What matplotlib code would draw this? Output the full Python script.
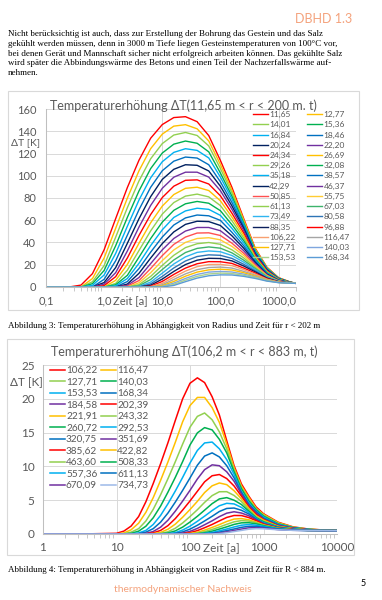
import matplotlib
matplotlib.use("Agg")
import matplotlib.pyplot as plt
from matplotlib.patches import Rectangle
from matplotlib.ticker import LogLocator, NullFormatter

W, H = 382, 600

# Abbildung 3: Zeit [a] und Temperaturerhoehung [K] je Radius
zeit1 = [0.1, 0.16, 0.25, 0.4, 0.63, 1, 1.58, 2.51, 3.98, 6.31, 10, 15.8, 25.1,
         39.8, 63.1, 100, 158, 251, 398, 631, 1000, 1585, 2000]
radien1 = ["11,65", "12,77", "14,01", "15,36", "16,84", "18,46", "20,24", "22,20",
           "24,34", "26,69", "29,26", "32,08", "35,18", "38,57", "42,29", "46,37",
           "50,85", "55,75", "61,13", "67,03", "73,49", "80,58", "88,35", "96,88",
           "106,22", "116,47", "127,71", "140,03", "153,53", "168,34"]
farben1 = ["#FF0000", "#FFC000", "#92D050", "#00B050", "#00B0F0", "#0070C0", "#002060", "#7030A0",
           "#FF0000", "#FFC000", "#92D050", "#00B050", "#00B0F0", "#0070C0", "#002060", "#7030A0",
           "#FF5050", "#FFCC33", "#92D050", "#3DB36B", "#2FB5F0", "#2E75B6", "#0B1F5C", "#FF0000",
           "#F8A070", "#A5A5A5", "#FFC000", "#7FA6DE", "#A9D18E", "#5B9BD5"]
werte1 = [
    [0, 0, 0, 1.7, 12.0, 33.5, 61.5, 89.4, 114.0, 133.7, 146.0, 152.3, 153.1, 148.6, 136.1, 113.8, 89.6, 61.7, 34.8, 17.8, 8.4, 4.5, 3.3],
    [0, 0, 0, 0, 7.6, 26.1, 52.8, 79.9, 104.5, 124.3, 137.4, 144.6, 145.9, 142.2, 131.3, 110.2, 87.0, 60.5, 34.1, 17.4, 8.3, 4.4, 3.3],
    [0, 0, 0, 0, 4.7, 19.3, 44.8, 71.3, 95.4, 115.2, 128.9, 136.6, 138.9, 136.2, 126.8, 106.6, 84.6, 59.2, 33.3, 17.1, 8.1, 4.4, 3.3],
    [0, 0, 0, 0, 3.0, 14.9, 37.1, 62.6, 86.4, 106.4, 120.4, 128.4, 131.2, 129.2, 121.5, 102.5, 81.6, 57.7, 32.5, 16.7, 7.9, 4.3, 3.3],
    [0, 0, 0, 0, 1.5, 10.8, 30.2, 54.6, 78.2, 98.1, 112.6, 121.0, 124.3, 122.8, 116.0, 98.8, 79.1, 56.3, 31.7, 16.3, 7.8, 4.3, 3.3],
    [0, 0, 0, 0, 0, 6.9, 23.6, 46.6, 69.5, 89.6, 104.5, 113.1, 116.8, 115.9, 109.9, 94.6, 76.0, 54.6, 30.7, 15.9, 7.6, 4.2, 3.3],
    [0, 0, 0, 0, 0, 4.0, 17.5, 39.3, 61.4, 81.2, 96.7, 105.8, 109.9, 109.4, 104.3, 90.6, 72.9, 52.9, 29.8, 15.4, 7.4, 4.2, 3.3],
    [0, 0, 0, 0, 0, 2.6, 12.9, 32.4, 53.9, 73.3, 88.7, 98.7, 103.2, 103.2, 98.8, 86.6, 69.9, 51.0, 28.9, 15.0, 7.3, 4.2, 3.3],
    [0, 0, 0, 0, 0, 1.2, 9.3, 26.1, 46.4, 65.1, 80.4, 90.6, 95.9, 96.3, 92.6, 82.0, 66.3, 48.7, 27.8, 14.4, 7.0, 4.1, 3.3],
    [0, 0, 0, 0, 0, 0, 6.0, 20.3, 39.3, 57.7, 72.7, 83.1, 88.7, 89.7, 86.7, 77.5, 62.9, 46.5, 27.0, 13.9, 6.9, 4.1, 3.3],
    [0, 0, 0, 0, 0, 0, 3.2, 15.1, 32.8, 50.4, 65.5, 75.9, 81.7, 83.5, 81.0, 73.2, 59.5, 44.2, 26.1, 13.4, 6.7, 4.0, 3.3],
    [0, 0, 0, 0, 0, 0, 2.0, 10.5, 26.8, 43.5, 58.3, 68.9, 74.8, 76.9, 75.3, 68.6, 56.0, 41.8, 25.1, 12.8, 6.5, 4.0, 3.3],
    [0, 0, 0, 0, 0, 0, 1.0, 7.6, 21.3, 37.2, 51.4, 62.5, 68.4, 70.8, 69.8, 64.4, 52.7, 39.6, 24.2, 12.4, 6.3, 3.9, 3.3],
    [0, 0, 0, 0, 0, 0, 0, 4.9, 16.6, 31.3, 44.9, 55.7, 62.1, 64.7, 64.0, 59.9, 49.2, 37.2, 23.1, 11.9, 6.1, 3.9, 3.3],
    [0, 0, 0, 0, 0, 0, 0, 2.6, 12.3, 26.0, 39.0, 49.5, 56.3, 59.1, 58.8, 55.3, 46.0, 35.0, 22.1, 11.5, 5.9, 3.8, 3.3],
    [0, 0, 0, 0, 0, 0, 0, 1.5, 8.5, 21.0, 33.4, 43.6, 50.3, 53.5, 53.5, 50.6, 42.6, 32.7, 20.9, 11.0, 5.7, 3.8, 3.3],
    [0, 0, 0, 0, 0, 0, 0, 0.7, 5.8, 16.6, 28.2, 38.3, 44.9, 48.5, 48.7, 46.3, 39.4, 30.4, 19.8, 10.5, 5.5, 3.7, 3.3],
    [0, 0, 0, 0, 0, 0, 0, 0, 3.8, 12.8, 23.7, 33.3, 40.1, 43.6, 44.3, 42.4, 36.5, 28.4, 18.7, 10.1, 5.3, 3.7, 3.3],
    [0, 0, 0, 0, 0, 0, 0, 0, 2.1, 9.5, 19.4, 28.5, 35.4, 38.9, 40.0, 38.4, 33.4, 26.2, 17.6, 9.6, 5.1, 3.7, 3.3],
    [0, 0, 0, 0, 0, 0, 0, 0, 1.1, 6.7, 15.7, 24.3, 31.0, 34.7, 36.0, 34.9, 30.7, 24.2, 16.5, 9.1, 5.0, 3.6, 3.3],
    [0, 0, 0, 0, 0, 0, 0, 0, 0.5, 4.4, 12.4, 20.7, 27.1, 31.1, 32.4, 31.7, 28.3, 22.4, 15.6, 8.7, 4.9, 3.6, 3.3],
    [0, 0, 0, 0, 0, 0, 0, 0, 0, 2.8, 9.5, 17.1, 23.4, 27.4, 28.9, 28.5, 25.7, 20.5, 14.5, 8.3, 4.8, 3.6, 3.3],
    [0, 0, 0, 0, 0, 0, 0, 0, 0, 1.6, 7.1, 14.0, 20.2, 24.1, 25.8, 25.6, 23.5, 18.9, 13.6, 7.9, 4.7, 3.5, 3.3],
    [0, 0, 0, 0, 0, 0, 0, 0, 0, 0.8, 5.0, 11.3, 17.0, 20.9, 22.8, 22.7, 21.2, 17.1, 12.5, 7.4, 4.5, 3.5, 3.3],
    [0, 0, 0, 0, 0, 0, 0, 0, 0, 0.3, 3.2, 8.9, 14.3, 18.3, 20.2, 20.3, 19.2, 15.7, 11.6, 7.0, 4.4, 3.5, 3.3],
    [0, 0, 0, 0, 0, 0, 0, 0, 0, 0, 2.0, 6.8, 11.8, 15.6, 17.5, 17.9, 17.0, 14.1, 10.6, 6.6, 4.3, 3.5, 3.3],
    [0, 0, 0, 0, 0, 0, 0, 0, 0, 0, 1.2, 5.0, 9.7, 13.4, 15.4, 16.0, 15.3, 12.9, 9.8, 6.3, 4.2, 3.4, 3.3],
    [0, 0, 0, 0, 0, 0, 0, 0, 0, 0, 0.5, 3.5, 7.7, 11.3, 13.4, 14.0, 13.5, 11.6, 9.0, 5.9, 4.1, 3.4, 3.3],
    [0, 0, 0, 0, 0, 0, 0, 0, 0, 0, 0.2, 2.4, 6.2, 9.6, 11.7, 12.5, 12.1, 10.6, 8.4, 5.6, 4.0, 3.4, 3.3],
    [0, 0, 0, 0, 0, 0, 0, 0, 0, 0, 0, 1.4, 4.8, 8.0, 10.1, 10.9, 10.8, 9.6, 7.7, 5.3, 3.9, 3.4, 3.3],
]

# Abbildung 4
zeit2 = [1, 3.2, 10, 12.6, 15.8, 20, 25.1, 31.6, 39.8, 50.1, 63.1, 79.4, 100, 126,
         158, 200, 251, 316, 398, 501, 631, 794, 1000, 1585, 2512, 3981, 6310, 10000]
radien2 = ["106,22", "116,47", "127,71", "140,03", "153,53", "168,34", "184,58", "202,39",
           "221,91", "243,32", "260,72", "292,53", "320,75", "351,69", "385,62", "422,82",
           "463,60", "508,33", "557,36", "611,13", "670,09", "734,73"]
farben2 = ["#FF0000", "#FFC000", "#92D050", "#00B050", "#00B0F0", "#0070C0", "#7030A0",
           "#FF0000", "#FFC000", "#92D050", "#00B050", "#00B0F0", "#0070C0", "#7030A0",
           "#FF0000", "#FFC000", "#92D050", "#00B050", "#00B0F0", "#0070C0", "#7030A0",
           "#9DB9E8"]
werte2 = [
    [0, 0, 0.1, 0.43, 1.17, 2.58, 4.77, 7.47, 10.4, 13.5, 16.8, 20.0, 22.3, 23.1, 22.4, 20.3, 17.6, 13.8, 10.1, 7.4, 5.6, 4.0, 3.0, 1.74, 1.06, 0.75, 0.6, 0.5],
    [0, 0, 0, 0.16, 0.62, 1.60, 3.21, 5.38, 7.94, 10.66, 13.56, 16.6, 19.0, 20.2, 20.2, 18.7, 16.5, 13.3, 9.8, 7.1, 5.4, 3.8, 2.9, 1.67, 1.02, 0.73, 0.59, 0.5],
    [0, 0, 0, 0.05, 0.27, 0.79, 1.92, 3.65, 5.81, 8.18, 10.69, 13.3, 15.8, 17.4, 17.9, 16.9, 15.1, 12.6, 9.5, 6.85, 5.1, 3.7, 2.8, 1.58, 0.99, 0.71, 0.58, 0.5],
    [0, 0, 0, 0, 0.1, 0.42, 1.15, 2.40, 4.13, 6.19, 8.38, 10.71, 13.17, 14.96, 15.74, 15.4, 14.0, 12.0, 9.2, 6.7, 4.9, 3.6, 2.65, 1.5, 0.96, 0.69, 0.57, 0.5],
    [0, 0, 0, 0, 0.01, 0.15, 0.53, 1.41, 2.75, 4.47, 6.36, 8.37, 10.5, 12.36, 13.47, 13.6, 12.6, 11.0, 8.8, 6.3, 4.6, 3.4, 2.5, 1.42, 0.92, 0.67, 0.56, 0.5],
    [0, 0, 0, 0, 0, 0.06, 0.27, 0.79, 1.75, 3.10, 4.72, 6.45, 8.29, 10.18, 11.53, 12.0, 11.4, 10.1, 8.3, 6.15, 4.4, 3.3, 2.35, 1.35, 0.88, 0.66, 0.56, 0.5],
    [0, 0, 0, 0, 0, 0, 0.09, 0.37, 1.01, 2.04, 3.38, 4.87, 6.46, 8.14, 9.52, 10.23, 10.1, 9.2, 7.8, 5.9, 4.2, 3.1, 2.2, 1.27, 0.85, 0.64, 0.55, 0.5],
    [0, 0, 0, 0, 0, 0, 0.03, 0.17, 0.53, 1.24, 2.28, 3.54, 4.89, 6.32, 7.72, 8.62, 8.8, 8.2, 7.1, 5.6, 4.0, 2.9, 2.14, 1.19, 0.82, 0.62, 0.55, 0.5],
    [0, 0, 0, 0, 0, 0, 0, 0.05, 0.24, 0.70, 1.46, 2.48, 3.62, 4.83, 6.13, 7.13, 7.55, 7.3, 6.4, 5.2, 3.8, 2.7, 2.05, 1.14, 0.78, 0.61, 0.54, 0.5],
    [0, 0, 0, 0, 0, 0, 0, 0.01, 0.09, 0.33, 0.85, 1.63, 2.58, 3.59, 4.68, 5.68, 6.25, 6.26, 5.7, 4.8, 3.6, 2.56, 1.92, 1.09, 0.75, 0.59, 0.53, 0.5],
    [0, 0, 0, 0, 0, 0, 0, 0, 0.03, 0.15, 0.46, 1.02, 1.77, 2.62, 3.53, 4.49, 5.19, 5.38, 5.0, 4.36, 3.38, 2.42, 1.8, 1.05, 0.72, 0.58, 0.53, 0.5],
    [0, 0, 0, 0, 0, 0, 0, 0, 0, 0.05, 0.20, 0.58, 1.16, 1.88, 2.64, 3.47, 4.18, 4.54, 4.45, 3.93, 3.18, 2.29, 1.69, 1.0, 0.70, 0.57, 0.53, 0.5],
    [0, 0, 0, 0, 0, 0, 0, 0, 0, 0.01, 0.09, 0.31, 0.72, 1.29, 1.93, 2.62, 3.33, 3.78, 3.84, 3.51, 2.96, 2.2, 1.58, 0.96, 0.68, 0.56, 0.52, 0.5],
    [0, 0, 0, 0, 0, 0, 0, 0, 0, 0, 0.03, 0.13, 0.39, 0.83, 1.37, 1.95, 2.57, 3.08, 3.29, 3.1, 2.7, 2.09, 1.52, 0.91, 0.66, 0.55, 0.52, 0.5],
    [0, 0, 0, 0, 0, 0, 0, 0, 0, 0, 0, 0.05, 0.20, 0.50, 0.93, 1.41, 1.94, 2.45, 2.74, 2.73, 2.43, 1.97, 1.45, 0.87, 0.64, 0.54, 0.52, 0.5],
    [0, 0, 0, 0, 0, 0, 0, 0, 0, 0, 0, 0.01, 0.08, 0.25, 0.57, 0.97, 1.39, 1.85, 2.21, 2.28, 2.1, 1.78, 1.35, 0.83, 0.62, 0.54, 0.51, 0.5],
    [0, 0, 0, 0, 0, 0, 0, 0, 0, 0, 0, 0, 0.03, 0.13, 0.35, 0.67, 1.03, 1.43, 1.80, 1.98, 1.91, 1.67, 1.31, 0.81, 0.61, 0.53, 0.51, 0.5],
    [0, 0, 0, 0, 0, 0, 0, 0, 0, 0, 0, 0, 0.01, 0.05, 0.18, 0.42, 0.73, 1.06, 1.42, 1.65, 1.67, 1.51, 1.24, 0.78, 0.59, 0.53, 0.51, 0.5],
    [0, 0, 0, 0, 0, 0, 0, 0, 0, 0, 0, 0, 0, 0.01, 0.08, 0.23, 0.47, 0.74, 1.04, 1.30, 1.40, 1.31, 1.13, 0.74, 0.58, 0.53, 0.51, 0.5],
    [0, 0, 0, 0, 0, 0, 0, 0, 0, 0, 0, 0, 0, 0, 0.03, 0.11, 0.28, 0.50, 0.74, 0.99, 1.13, 1.12, 1.01, 0.70, 0.56, 0.52, 0.51, 0.5],
    [0, 0, 0, 0, 0, 0, 0, 0, 0, 0, 0, 0, 0, 0, 0.01, 0.04, 0.15, 0.32, 0.52, 0.73, 0.91, 0.94, 0.88, 0.65, 0.55, 0.52, 0.5, 0.5],
    [0, 0, 0, 0, 0, 0, 0, 0, 0, 0, 0, 0, 0, 0, 0, 0.01, 0.07, 0.19, 0.36, 0.53, 0.71, 0.79, 0.77, 0.62, 0.54, 0.51, 0.5, 0.5],
]

xticks1 = [0.1, 1, 10, 100, 1000]
xlabels1 = ["0,1", "1,0", "10,0", "100,0", "1000,0"]
yticks1 = [0, 20, 40, 60, 80, 100, 120, 140, 160]
xticks2 = [1, 10, 100, 1000, 10000]
xlabels2 = ["1", "10", "100", "1000", "10000"]
yticks2 = [0, 5, 10, 15, 20, 25]

absatz = [
    "Nicht berücksichtig ist auch, dass zur Erstellung der Bohrung das Gestein und das Salz",
    "gekühlt werden müssen, denn in 3000 m Tiefe liegen Gesteinstemperaturen von 100°C vor,",
    "bei denen Gerät und Mannschaft sicher nicht erfolgreich arbeiten können. Das gekühlte Salz",
    "wird später die Abbindungswärme des Betons und einen Teil der Nachzerfallswärme auf-",
    "nehmen.",
]

plt.rcParams['font.family'] = ['Lato', 'DejaVu Sans']
grau = '#595959'
linie = '#D9D9D9'
orange = '#F4A27C'

fig = plt.figure(figsize=(W / 100, H / 100), dpi=100)


def fx(x):
    return x / W


def fy(y):
    return 1 - y / H


# Kopf und Text
fig.text(fx(352), fy(19), "DBHD 1.3", color=orange, fontsize=9, ha='right', va='center')
for i, zeile in enumerate(absatz):
    fig.text(fx(8), fy(34 + i * 9.8), zeile, fontsize=6.5, family='Liberation Serif',
             ha='left', va='center')

# Rahmen der beiden Diagramme
for (x0, y0, x1, y1) in [(8, 91, 359, 310), (7, 339, 354, 555)]:
    fig.patches.append(Rectangle((fx(x0), fy(y1)), (x1 - x0) / W, (y1 - y0) / H,
                                 transform=fig.transFigure, fill=False,
                                 edgecolor=linie, lw=0.8, zorder=0))


def achse_stil(ax, ylabsize, ypad, xpad):
    for s in ['top', 'right']:
        ax.spines[s].set_visible(False)
    for s in ['left', 'bottom']:
        ax.spines[s].set_color('#BFBFBF')
        ax.spines[s].set_linewidth(0.75)
    ax.xaxis.set_minor_locator(LogLocator(base=10, subs=range(2, 10), numticks=20))
    ax.xaxis.set_minor_formatter(NullFormatter())
    ax.tick_params(which='major', length=0, labelcolor=grau, labelsize=ylabsize)
    ax.tick_params(axis='y', which='major', pad=ypad)
    ax.tick_params(axis='x', which='major', pad=xpad)
    ax.tick_params(which='minor', length=3, color='#BFBFBF', width=0.6)
    ax.grid(which='major', color=linie, lw=0.7)
    ax.set_axisbelow(True)


# Abbildung 3
ax1 = fig.add_axes([fx(46), fy(287), (296 - 46) / W, (287 - 109) / H])
ax1.set_xscale('log')
linien1 = []
for werte, farbe in zip(werte1, farben1):
    l, = ax1.plot(zeit1, werte, color=farbe, lw=1.0, solid_joinstyle='round')
    linien1.append(l)
ax1.set_xlim(0.1, 2000)
ax1.set_ylim(0, 160)
ax1.set_xticks(xticks1)
ax1.set_xticklabels(xlabels1)
ax1.set_yticks(yticks1)
achse_stil(ax1, 8, 7, 6)

reihe1 = list(range(0, 30, 2)) + list(range(1, 30, 2))
leg1 = ax1.legend([linien1[i] for i in reihe1], [radien1[i] for i in reihe1], ncol=2,
                  loc='upper left', bbox_to_anchor=(fx(253), fy(111)),
                  bbox_transform=fig.transFigure, frameon=False, fontsize=6,
                  handlelength=1.8, handletextpad=0.15, columnspacing=1.4,
                  labelspacing=0.38, borderpad=0, borderaxespad=0)
for t in leg1.get_texts():
    t.set_color(grau)

fig.text(fx(183), fy(106), "Temperaturerhöhung ΔT(11,65 m < r < 200 m. t)",
         color=grau, fontsize=9, ha='center', va='center')
fig.text(fx(26), fy(143), "ΔT [K]", color=grau, fontsize=7.5, ha='center', va='center')
fig.text(fx(130), fy(301), "Zeit [a]", color=grau, fontsize=8, ha='center', va='center')
fig.text(fx(8), fy(326), "Abbildung 3: Temperaturerhöhung in Abhängigkeit von Radius und Zeit für r < 202 m",
         fontsize=6.5, family='Liberation Serif', ha='left', va='center')

# Abbildung 4
ax2 = fig.add_axes([fx(43), fy(534), (337 - 43) / W, (534 - 365) / H])
ax2.set_xscale('log')
linien2 = []
for werte, farbe in zip(werte2, farben2):
    l, = ax2.plot(zeit2, werte, color=farbe, lw=1.1, solid_joinstyle='round')
    linien2.append(l)
ax2.set_xlim(1, 10000)
ax2.set_ylim(0, 25)
ax2.set_xticks(xticks2)
ax2.set_xticklabels(xlabels2)
ax2.set_yticks(yticks2)
achse_stil(ax2, 8.5, 6, 6)

reihe2 = list(range(0, 22, 2)) + list(range(1, 22, 2))
leg2 = ax2.legend([linien2[i] for i in reihe2], [radien2[i] for i in reihe2], ncol=2,
                  loc='upper left', bbox_to_anchor=(fx(50), fy(366)),
                  bbox_transform=fig.transFigure, frameon=False, fontsize=7.2,
                  handlelength=1.5, handletextpad=0.1, columnspacing=0.4,
                  labelspacing=0.25, borderpad=0, borderaxespad=0)
for t in leg2.get_texts():
    t.set_color(grau)

fig.text(fx(184), fy(352), "Temperaturerhöhung ΔT(106,2 m < r < 883 m, t)",
         color=grau, fontsize=9, ha='center', va='center')
fig.text(fx(26), fy(383), "ΔT [K]", color=grau, fontsize=8.5, ha='center', va='center')
fig.text(fx(221), fy(548), "Zeit [a]", color=grau, fontsize=8.5, ha='center', va='center')
fig.text(fx(8), fy(570), "Abbildung 4: Temperaturerhöhung in Abhängigkeit von Radius und Zeit für R < 884 m.",
         fontsize=6.5, family='Liberation Serif', ha='left', va='center')

# Fusszeile
fig.text(fx(183), fy(589), "thermodynamischer Nachweis", color=orange, fontsize=7.5,
         ha='center', va='center')
fig.text(fx(363), fy(583), "5", fontsize=6.5, ha='center', va='center')

fig.savefig("out.png", dpi=100)
